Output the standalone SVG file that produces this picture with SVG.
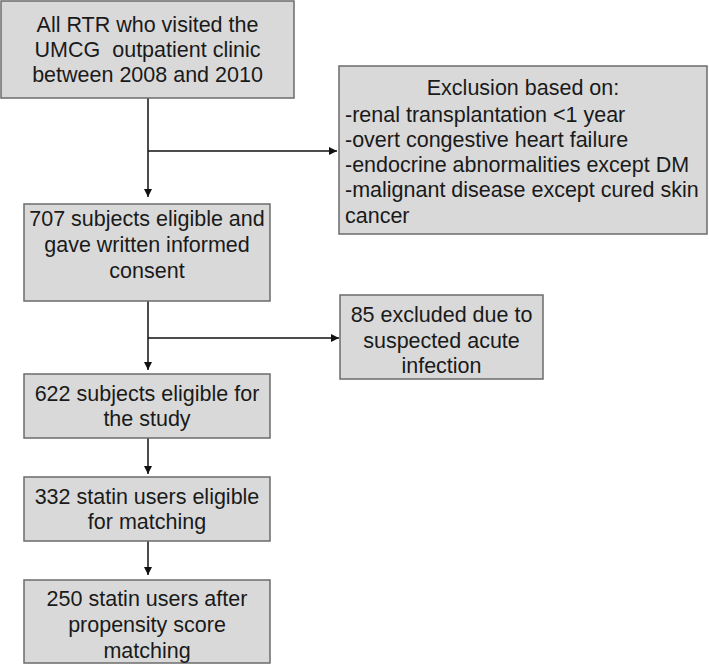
<svg xmlns="http://www.w3.org/2000/svg" width="709" height="664" viewBox="0 0 709 664">
<defs>
<marker id="ah" viewBox="0 0 10 10" refX="10" refY="5" markerWidth="8" markerHeight="8" markerUnits="userSpaceOnUse" orient="auto">
<path d="M0,0 L10,5 L0,10 z" fill="#111"/>
</marker>
<style>
.box{fill:#d9d9d9;stroke:#6b6b6b;stroke-width:1.5}
.t{font-family:"Liberation Sans",Arial,sans-serif;font-size:21.5px;fill:#1a1a1a}
.c{text-anchor:middle}
.ln{fill:none;stroke:#111;stroke-width:1.5}
</style>
</defs>
<rect width="709" height="664" fill="#fff"/>
<g id="connectors">
<path class="ln" d="M148,98 V197" marker-end="url(#ah)"/>
<path class="ln" d="M148,151 H337" marker-end="url(#ah)"/>
<path class="ln" d="M148,301 V370" marker-end="url(#ah)"/>
<path class="ln" d="M148,338 H339" marker-end="url(#ah)"/>
<path class="ln" d="M148,438 V474" marker-end="url(#ah)"/>
<path class="ln" d="M148,541 V575" marker-end="url(#ah)"/>
</g>
<g id="n1">
<rect class="box" x="1" y="1" width="293" height="97"/>
<text class="t c" x="147.5" y="32">All RTR who visited the</text>
<text class="t c" x="147.5" y="57" xml:space="preserve">UMCG  outpatient clinic</text>
<text class="t c" x="147.5" y="82">between 2008 and 2010</text>
</g>
<g id="n_excl">
<rect class="box" x="339" y="66" width="368" height="168"/>
<text class="t c" x="523" y="95">Exclusion based on:</text>
<text class="t" x="345" y="122">-renal transplantation &lt;1 year</text>
<text class="t" x="345" y="147">-overt congestive heart failure</text>
<text class="t" x="345" y="172">-endocrine abnormalities except DM</text>
<text class="t" x="345" y="197">-malignant disease except cured skin</text>
<text class="t" x="345" y="223">cancer</text>
</g>
<g id="n2">
<rect class="box" x="24" y="204" width="246" height="97"/>
<text class="t c" x="147" y="226">707 subjects eligible and</text>
<text class="t c" x="147" y="252">gave written informed</text>
<text class="t c" x="147" y="278">consent</text>
</g>
<g id="n_inf">
<rect class="box" x="340" y="295" width="203" height="84"/>
<text class="t c" x="441.5" y="322">85 excluded due to</text>
<text class="t c" x="441.5" y="348">suspected acute</text>
<text class="t c" x="441.5" y="373">infection</text>
</g>
<g id="n3">
<rect class="box" x="24" y="374" width="246" height="64"/>
<text class="t c" x="147" y="401">622 subjects eligible for</text>
<text class="t c" x="147" y="426">the study</text>
</g>
<g id="n4">
<rect class="box" x="24" y="477" width="246" height="64"/>
<text class="t c" x="147" y="504">332 statin users eligible</text>
<text class="t c" x="147" y="529">for matching</text>
</g>
<g id="n5">
<rect class="box" x="24" y="580" width="246" height="83"/>
<text class="t c" x="147" y="606">250 statin users after</text>
<text class="t c" x="147" y="632">propensity score</text>
<text class="t c" x="147" y="658">matching</text>
</g>
</svg>
